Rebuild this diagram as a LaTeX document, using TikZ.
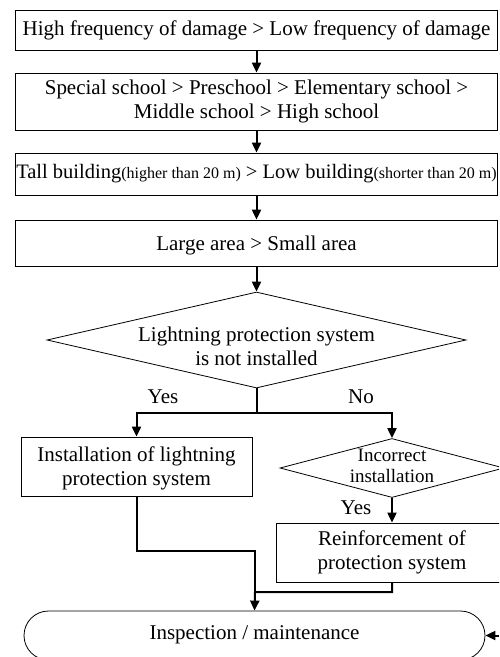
\documentclass[tikz,border=0pt]{standalone}
\usepackage{fontspec}
\setmainfont{Liberation Serif}
\usetikzlibrary{arrows.meta,shapes.geometric,shapes.misc}

% move a line of text without changing its box
\newcommand{\nudgeline}[2]{\raisebox{#1}[\height][\depth]{#2}}

\begin{document}
\begin{tikzpicture}[
    x=1pt, y=-1pt,
    every node/.style={font=\fontsize{21}{23.5}\selectfont, align=center, inner sep=0pt},
    box/.style={draw, line width=0.8pt, rectangle},
    cond/.style={draw, line width=0.8pt, diamond},
    term/.style={draw, line width=0.8pt, rounded rectangle},
    flow/.style={line width=2pt, -{Triangle[length=10pt,width=9pt]}},
    link/.style={line width=2pt}
]

\useasboundingbox (0,0) rectangle (499,657);
\clip (0,0) rectangle (499,657);

% Priority boxes
\node[box, minimum width=482, minimum height=40] (damage) at (256.5,30.5)
    {High frequency of damage > Low frequency of damage};
\node[box, minimum width=482, minimum height=57] (school) at (256.5,101.5)
    {Special school > Preschool > Elementary school >\\Middle school > High school};
\node[box, minimum width=482, minimum height=42, font=\fontsize{20.5}{24}\selectfont] (height) at (256.5,174)
    {Tall building{\fontsize{16}{18}\selectfont(higher than 20 m)} > Low building{\fontsize{16}{18}\selectfont(shorter than 20 m)}};
\node[box, minimum width=482, minimum height=46] (area) at (256.5,243)
    {\nudgeline{-2pt}{Large area > Small area}};

% Decisions
\node[cond, minimum width=419, minimum height=96, aspect=4.36, font=\fontsize{21}{24}\selectfont] (lps) at (256.5,340)
    {\nudgeline{-6.5pt}{Lightning protection system}\\\nudgeline{-6.5pt}{is not installed}};
\node[cond, minimum width=224, minimum height=59, aspect=3.8, font=\fontsize{19}{20.5}\selectfont] (incorrect) at (392,468)
    {\nudgeline{2pt}{Incorrect}\\\nudgeline{2pt}{installation}};

% Actions
\node[box, minimum width=231, minimum height=59] (install) at (136.5,466.5)
    {\nudgeline{-2pt}{Installation of lightning}\\\nudgeline{-2pt}{protection system}};
\node[box, minimum width=232, minimum height=59, font=\fontsize{21}{24.5}\selectfont] (reinforce) at (392,552.5)
    {Reinforcement of\\protection system};
\node[term, minimum width=461, minimum height=49] (insp) at (254.5,635.5)
    {\nudgeline{1pt}{Inspection / maintenance}};

% Branch labels
\node[anchor=base] (yesA) at (163,403) {Yes};
\node[anchor=base] (noA) at (361,403) {No};
\node[anchor=base] (yesB) at (356,514) {Yes};

% Flow
\draw[flow] (damage.south) -- (school.north);
\draw[flow] (school.south) -- (height.north);
\draw[flow] (height.south) -- (area.north);
\draw[flow] (area.south) -- (lps.north);

\coordinate (fork) at (256.5,413);
\draw[link] (lps.south) -- (fork);
\draw[flow] (fork) -| (install.north);
\draw[flow] (fork) -| (incorrect.north);
\draw[flow] (incorrect.south) -- (reinforce.north);

\coordinate (m1) at (255,551);
\coordinate (m2) at (255,592);
\draw[link] (install.south) |- (m1) -- (m2);
\draw[flow] (reinforce.south) |- (m2) -- (insp.north);

\coordinate (back) at (499,635.5);
\draw[flow] (back) -- (insp.east);

\end{tikzpicture}
\end{document}
